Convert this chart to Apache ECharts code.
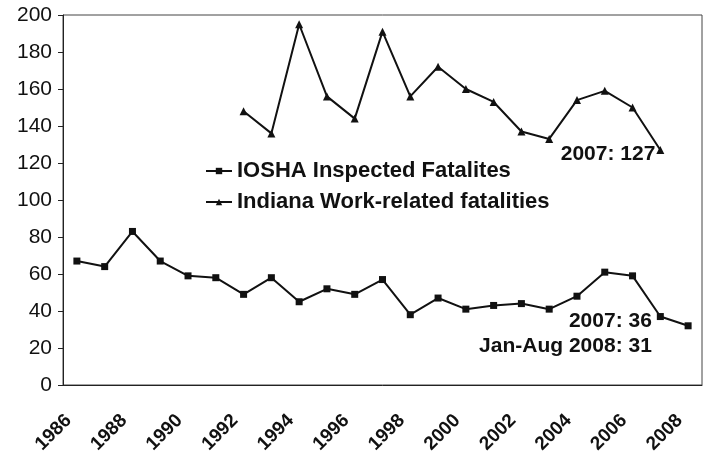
<!DOCTYPE html>
<html style="height: 100%">
<head>
<meta charset="utf-8">
<script src="https://cdn.jsdelivr.net/npm/echarts@6/dist/echarts.min.js"></script>
</head>
<body style="height: 100%; margin: 0; background: #fff">
<div id="container" style="width: 703px; height: 451px"></div>
<script type="text/javascript">
var years = ['1986', '1987', '1988', '1989', '1990', '1991', '1992', '1993', '1994', '1995', '1996', '1997',
    '1998', '1999', '2000', '2001', '2002', '2003', '2004', '2005', '2006', '2007', '2008'];
var iosha = [67, 64, 83, 67, 59, 58, 49, 58, 45, 52, 49, 57, 38, 47, 41, 43, 44, 41, 48, 61, 59, 37, 32];
var indiana = [null, null, null, null, null, null, 148, 136, 195, 156, 144, 191, 156, 172, 160, 153, 137, 133,
    154, 159, 150, 127, null];
var seriesNames = ['IOSHA Inspected Fatalites', 'Indiana Work-related fatalities'];
var ioshaNote = '2007: 36\nJan-Aug 2008: 31';
var indianaNote = '2007: 127';

var FONT = '"Liberation Sans", Arial, sans-serif';

var noteLabel = function (text, offset) {
    return {
        show: true,
        position: 'left',
        formatter: text,
        align: 'right',
        offset: offset,
        fontFamily: FONT,
        fontWeight: 'bold',
        fontSize: 21,
        lineHeight: 25,
        color: '#111'
    };
};

var ioshaData = iosha.map(function (v, i) {
    if (years[i] === '2007') return { value: v, label: noteLabel(ioshaNote, [0, 17]) };
    return v;
});
var indianaData = indiana.map(function (v, i) {
    if (years[i] === '2007') return { value: v, label: noteLabel(indianaNote, [4, 4]) };
    return v;
});

var myChart = echarts.init(document.getElementById('container'));
var option = {
    animation: false,
    grid: {
        left: 63, right: 1, top: 15, bottom: 66,
        outerBoundsMode: 'none',
        show: true, borderColor: '#444', borderWidth: 1, backgroundColor: 'transparent'
    },
    legend: {
        orient: 'vertical',
        left: 200,
        top: 155,
        itemWidth: 26,
        itemHeight: 8,
        itemGap: 9,
        data: seriesNames,
        textStyle: { fontFamily: FONT, fontWeight: 'bold', fontSize: 22, color: '#111' }
    },
    xAxis: {
        type: 'category',
        data: years,
        boundaryGap: true,
        axisLine: { lineStyle: { color: '#222', width: 1 } },
        axisTick: { interval: 0, length: 6, lineStyle: { color: '#222' } },
        axisLabel: {
            interval: 1,
            rotate: 45,
            margin: 24,
            padding: [0, 12, 0, 0],
            fontFamily: FONT,
            fontWeight: 'bold',
            fontSize: 19,
            color: '#111'
        }
    },
    yAxis: {
        type: 'value',
        min: 0,
        max: 200,
        interval: 20,
        splitLine: { show: false },
        axisLine: { show: true, lineStyle: { color: '#222', width: 1 } },
        axisTick: { show: true, length: 5, lineStyle: { color: '#222' } },
        axisLabel: { margin: 11, fontFamily: FONT, fontSize: 21, color: '#111' }
    },
    series: [
        {
            name: seriesNames[0],
            type: 'line',
            data: ioshaData,
            symbol: 'rect',
            symbolSize: 7,
            lineStyle: { color: '#111', width: 2 },
            itemStyle: { color: '#111' }
        },
        {
            name: seriesNames[1],
            type: 'line',
            data: indianaData,
            symbol: 'triangle',
            symbolSize: 8,
            lineStyle: { color: '#111', width: 2 },
            itemStyle: { color: '#111' }
        }
    ]
};
myChart.setOption(option);
</script>
</body>
</html>
